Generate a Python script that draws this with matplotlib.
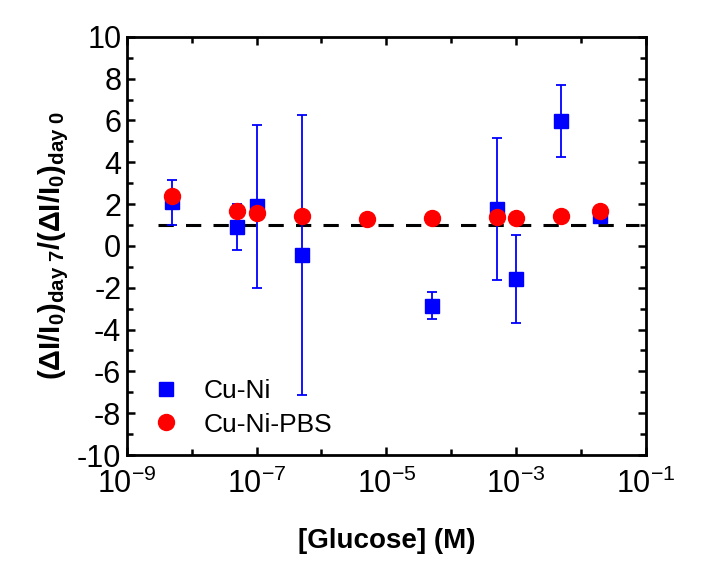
import numpy as np
import matplotlib.pyplot as plt
from matplotlib.ticker import FixedLocator, MultipleLocator

plt.rcParams['font.family'] = ['Liberation Sans', 'DejaVu Sans']
plt.rcParams['mathtext.fontset'] = 'custom'
plt.rcParams['mathtext.rm'] = 'Liberation Sans'
plt.rcParams['mathtext.it'] = 'Liberation Sans:italic'
plt.rcParams['mathtext.bf'] = 'Liberation Sans:bold'
plt.rcParams['axes.unicode_minus'] = False

# Glucose concentration (M)
conc_cuni = [5e-9, 5e-8, 1e-7, 5e-7, 5e-5, 5e-4, 1e-3, 5e-3, 2e-2]
ratio_cuni = [2.08, 0.90, 1.89, -0.44, -2.85, 1.76, -1.60, 5.98, 1.45]
err_cuni = [1.08, 1.10, 3.90, 6.70, 0.65, 3.40, 2.10, 1.73, 0.15]

conc_pbs = [5e-9, 5e-8, 1e-7, 5e-7, 5e-6, 5e-5, 5e-4, 1e-3, 5e-3, 2e-2]
ratio_pbs = [2.40, 1.68, 1.57, 1.41, 1.28, 1.33, 1.37, 1.33, 1.44, 1.65]

ref_x = [3e-9, 8e-2]
ref_y = 1

fig = plt.figure(figsize=(7.05, 5.66), dpi=100)
ax = fig.add_axes([0.180, 0.196, 0.736, 0.739])

ax.plot(ref_x, [ref_y, ref_y], color='black', lw=2.2, ls=(0, (5, 4)), zorder=1)
ax.errorbar(conc_cuni, ratio_cuni, yerr=err_cuni, fmt='none', ecolor='#0000ff',
            elinewidth=1.3, capsize=3.5, capthick=1.3, zorder=2)
ax.plot(conc_cuni, ratio_cuni, 's', color='#0000ff', ms=10, label='Cu-Ni', zorder=2)
ax.plot(conc_pbs, ratio_pbs, 'o', color='#ff0000', ms=11.5, label='Cu-Ni-PBS', zorder=3)

ax.set_xscale('log')
ax.set_xlim(1e-9, 1e-1)
ax.set_ylim(-10, 10)
ax.xaxis.set_major_locator(FixedLocator([1e-9, 1e-7, 1e-5, 1e-3, 1e-1]))
ax.xaxis.set_minor_locator(FixedLocator([1e-8, 1e-6, 1e-4, 1e-2]))
ax.xaxis.set_minor_formatter(plt.NullFormatter())
ax.set_xticklabels([r'$10^{-9}$', r'$10^{-7}$', r'$10^{-5}$', r'$10^{-3}$', r'$10^{-1}$'])
ax.yaxis.set_major_locator(MultipleLocator(2))
ax.yaxis.set_minor_locator(MultipleLocator(1))

ax.tick_params(which='both', direction='in', top=True, right=True, width=1.8, labelsize=22)
ax.tick_params(which='major', length=6)
ax.tick_params(which='minor', length=4)
ax.tick_params(axis='x', pad=10)
ax.tick_params(axis='y', pad=4)
for s in ax.spines.values():
    s.set_linewidth(2)

ax.set_xlabel('[Glucose] (M)', fontsize=20, fontweight='bold', labelpad=20)
ax.set_ylabel(r'$\mathbf{(\Delta I/I_0)_{day\ 7}/(\Delta I/I_0)_{day\ 0}}$', fontsize=21, labelpad=4)

ax.legend(loc='lower left', frameon=False, fontsize=19, handletextpad=0.6,
          handlelength=1.6, labelspacing=0.35, bbox_to_anchor=(0.0, 0.0), borderaxespad=0.3)

plt.savefig('out.png', dpi=100)
